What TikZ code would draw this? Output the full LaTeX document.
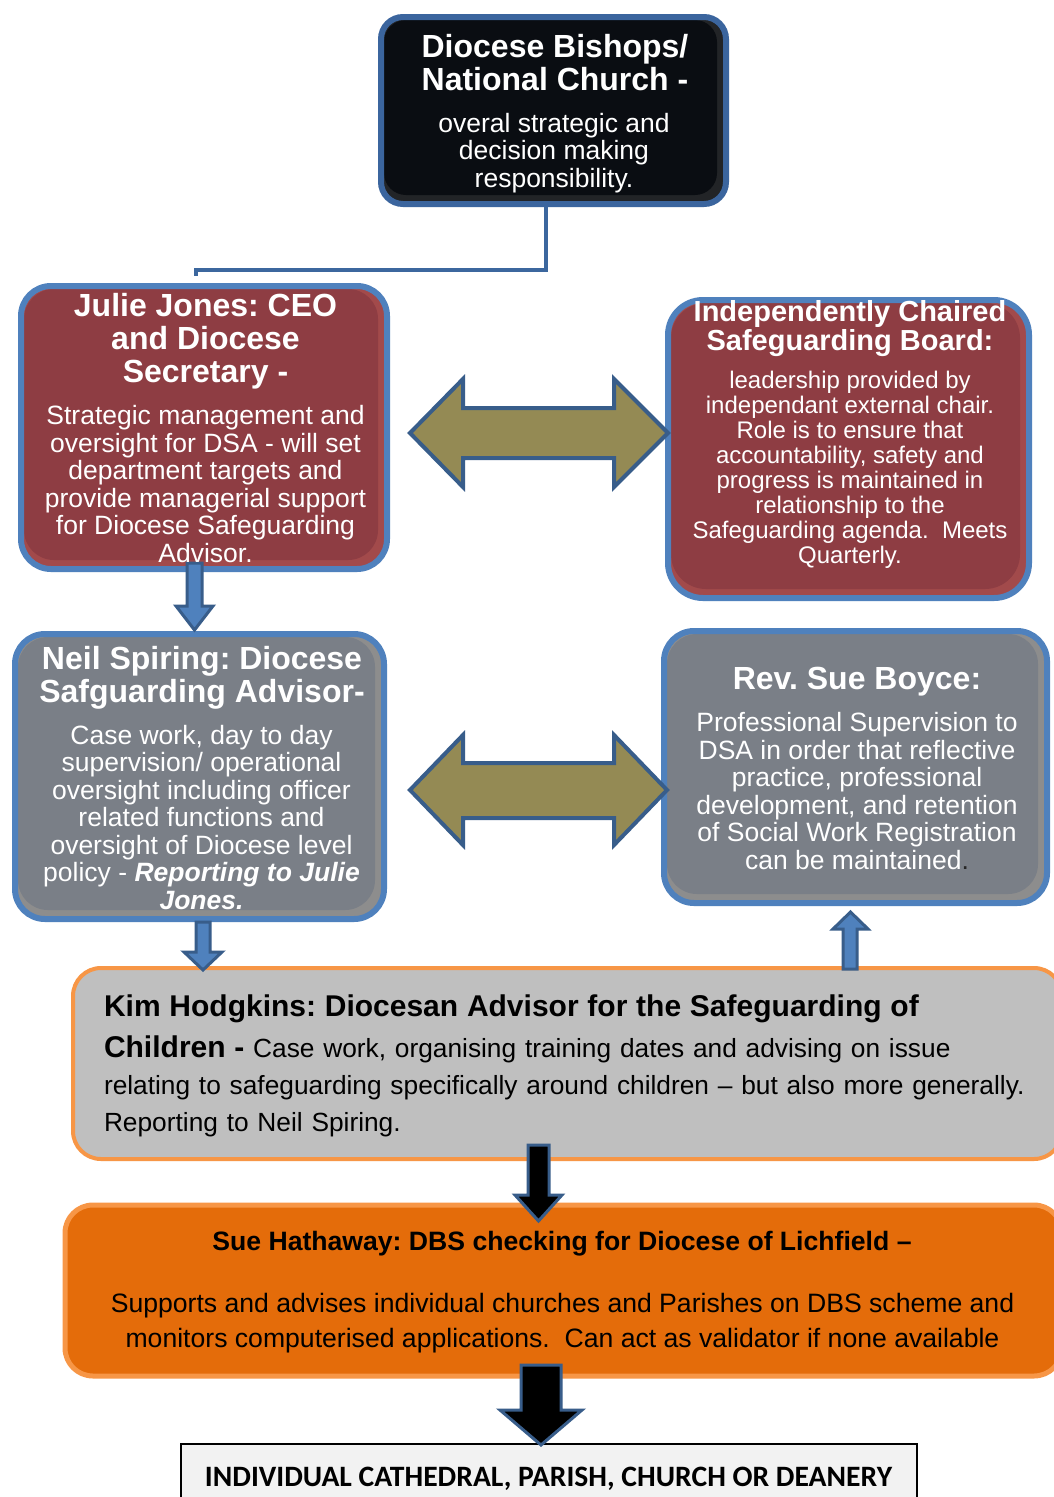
\documentclass[tikz,border=0pt]{standalone}
\usepackage{fontspec}
\setmainfont{Liberation Sans}
\newfontfamily\calibrifont{Carlito}
\usetikzlibrary{calc}
\frenchspacing
\definecolor{bdblue}{HTML}{4F81BD}
\definecolor{bddark}{HTML}{3B659E}
\definecolor{arrowbd}{HTML}{385D8A}
\definecolor{linkblue}{HTML}{3C679E}
\definecolor{maroonface}{HTML}{8E3D43}
\definecolor{maroonband}{HTML}{A24A4B}
\definecolor{greyface}{HTML}{7A7F87}
\definecolor{greyband}{HTML}{8D8D8D}
\definecolor{blackface}{HTML}{0A0D12}
\definecolor{blackband}{HTML}{222427}
\definecolor{olivefill}{HTML}{948A54}
\definecolor{orangebd}{HTML}{F79646}
\definecolor{orangefill}{HTML}{E46C0A}
\definecolor{kimfill}{HTML}{BFBFBF}
\definecolor{bottomfill}{HTML}{F2F2F2}
\newcommand\rbox[9]{%
  \node[inner sep=0pt,outer sep=0pt,minimum width=#4,minimum height=#5,fill=#8,rounded corners=#6] (#1) at (#2,#3) {};
  \fill[#7,rounded corners=#6] ([shift={(3,3)}]#1.north west) rectangle ([shift={(-9,-9)}]#1.south east);
  \draw[#9,line width=6pt,rounded corners=#6] (#1.north west) rectangle (#1.south east);
}
\tikzset{
  wtxt/.style={text=white,inner sep=0pt,outer sep=0pt,align=center},
  titlefont/.style={font=\fontsize{32}{33}\selectfont\bfseries},
  bodyfont/.style={font=\fontsize{26.5}{27.5}\selectfont},
  olivearrow/.style={fill=olivefill,draw=arrowbd,line width=4pt,line join=miter},
  bluearrow/.style={fill=bdblue,draw=arrowbd,line width=3pt,line join=miter},
  blackarrow/.style={fill=black,draw=arrowbd,line width=3pt,line join=miter},
}
\begin{document}
\begin{tikzpicture}[x=1pt,y=-1pt]
\useasboundingbox[fill=white] (0,0) rectangle (1054,1497);

% ---- boxes ----
\rbox{dio}{553.5}{110.5}{345}{187}{22pt}{blackface}{blackband}{bddark}
\rbox{jj}{204}{427.5}{366}{283}{30pt}{maroonface}{maroonband}{bdblue}
\rbox{icsb}{848.5}{449}{361}{298}{35pt}{maroonface}{maroonband}{bdblue}
\rbox{ns}{199.5}{776.5}{369}{285}{30pt}{greyface}{greyband}{bdblue}
\rbox{sb}{855.5}{767}{383}{272}{30pt}{greyface}{greyband}{bdblue}

\node[inner sep=0pt,outer sep=0pt,minimum width=989,minimum height=191,fill=kimfill,draw=orangebd,line width=4pt,rounded corners=28pt] (kim) at (567.5,1063.5) {};
\node[inner sep=0pt,outer sep=0pt,minimum width=997,minimum height=171,fill=orangefill,draw=orangebd,line width=5pt,rounded corners=28pt] (sue) at (563.5,1290.5) {};
\node[inner sep=0pt,outer sep=0pt,minimum width=736,minimum height=64,fill=bottomfill,draw=black,line width=2pt] (bot) at (549,1476) {};

% ---- connector from top box ----
\coordinate (c1) at (546,207);
\coordinate (c2) at (546,270);
\coordinate (c3) at (196,270);
\coordinate (c4) at (196,276);
\draw[linkblue,line width=4pt] (c1) -- (c2) -- (c3) -- (c4);

% ---- olive double arrows ----
\draw[olivearrow] (410,433) -- (463,379) -- (463,408) -- (614,408) -- (614,379) -- (668,433) -- (614,487) -- (614,458) -- (463,458) -- (463,487) -- cycle;
\draw[olivearrow] (410,790) -- (463,735) -- (463,763) -- (614,763) -- (614,735) -- (667,790) -- (614,845) -- (614,818) -- (463,818) -- (463,845) -- cycle;

% ---- small blue arrows ----
\draw[bluearrow] (187,563) -- (202,563) -- (202,606) -- (213,606) -- (194.5,630) -- (176,606) -- (187,606) -- cycle;
\draw[bluearrow] (196,922) -- (210,922) -- (210,952) -- (222,952) -- (203,970) -- (184,952) -- (196,952) -- cycle;
\draw[bluearrow] (843,969) -- (857,969) -- (857,929) -- (868,929) -- (850.5,912) -- (833,929) -- (843,929) -- cycle;

% ---- black arrows ----
\draw[blackarrow] (528,1145) -- (549,1145) -- (549,1195) -- (562,1195) -- (538.5,1221) -- (515,1195) -- (528,1195) -- cycle;
\draw[blackarrow] (521,1365) -- (561,1365) -- (561,1410) -- (582,1410) -- (541,1445) -- (500,1410) -- (521,1410) -- cycle;

% ---- texts ----
\node[wtxt,titlefont] (dioT) at (555,62.5) {Diocese Bishops/\\National Church -};
\node[wtxt,bodyfont] (dioB) at (554,153) {overal strategic and\\decision making\\responsibility.};

\node[wtxt,titlefont] (jjT) at (205.5,341) {Julie Jones: CEO\\and Diocese\\Secretary -};
\node[wtxt,bodyfont] (jjB) at (205.5,484) {Strategic management and\\oversight for DSA - will set\\department targets and\\provide managerial support\\for Diocese Safeguarding\\Advisor.};

\node[wtxt,font=\fontsize{29}{29}\selectfont\bfseries] (icsbT) at (850,328.5) {Independently Chaired\\Safeguarding Board:};
\node[wtxt,font=\fontsize{24}{25}\selectfont] (icsbB) at (850,470) {leadership provided by\\independant external chair.\\Role is to ensure that\\accountability, safety and\\progress is maintained in\\relationship to the\\Safeguarding agenda.\ \ Meets\\Quarterly.};

\node[wtxt,titlefont] (nsT) at (202,677.5) {Neil Spiring: Diocese\\Safguarding Advisor-};
\node[wtxt,bodyfont] (nsB) at (201.5,817.5) {Case work, day to day\\supervision/ operational\\oversight including officer\\related functions and\\oversight of Diocese level\\policy - \textbf{\textit{Reporting to Julie}}\\\textbf{\textit{Jones.}}};

\node[wtxt,titlefont] (sbT) at (857,682) {Rev. Sue Boyce:};
\node[wtxt,bodyfont] (sbB) at (857,791) {Professional Supervision to\\DSA in order that reflective\\practice, professional\\development, and retention\\of Social Work Registration\\can be maintained{\color{black!85}.}};

\node[inner sep=0pt,outer sep=0pt,anchor=west,text width=950pt,align=left,font=\fontsize{26.3}{37}\selectfont] (kimT) at (104,1066) {{\fontsize{30}{37}\selectfont\bfseries Kim Hodgkins: Diocesan Advisor for the Safeguarding of}\\[4pt]{\fontsize{30}{37}\selectfont\bfseries Children -} Case work, organising training dates and advising on issue\\relating to safeguarding specifically around children – but also more generally.\\Reporting to Neil Spiring.};

\node[inner sep=0pt,outer sep=0pt,font=\fontsize{26.6}{30}\selectfont\bfseries] (sueT) at (562,1244) {Sue Hathaway: DBS checking for Diocese of Lichfield –};
\node[inner sep=0pt,outer sep=0pt,align=center,font=\fontsize{26.6}{35}\selectfont] (sueB) at (562.5,1323.5) {Supports and advises individual churches and Parishes on DBS scheme and\\monitors computerised applications.\ \ Can act as validator if none available};

\node[inner sep=0pt,outer sep=0pt,font=\calibrifont\fontsize{29.6}{30}\selectfont\bfseries] (botT) at (548.5,1479) {INDIVIDUAL CATHEDRAL, PARISH, CHURCH OR DEANERY};
\end{tikzpicture}
\end{document}
